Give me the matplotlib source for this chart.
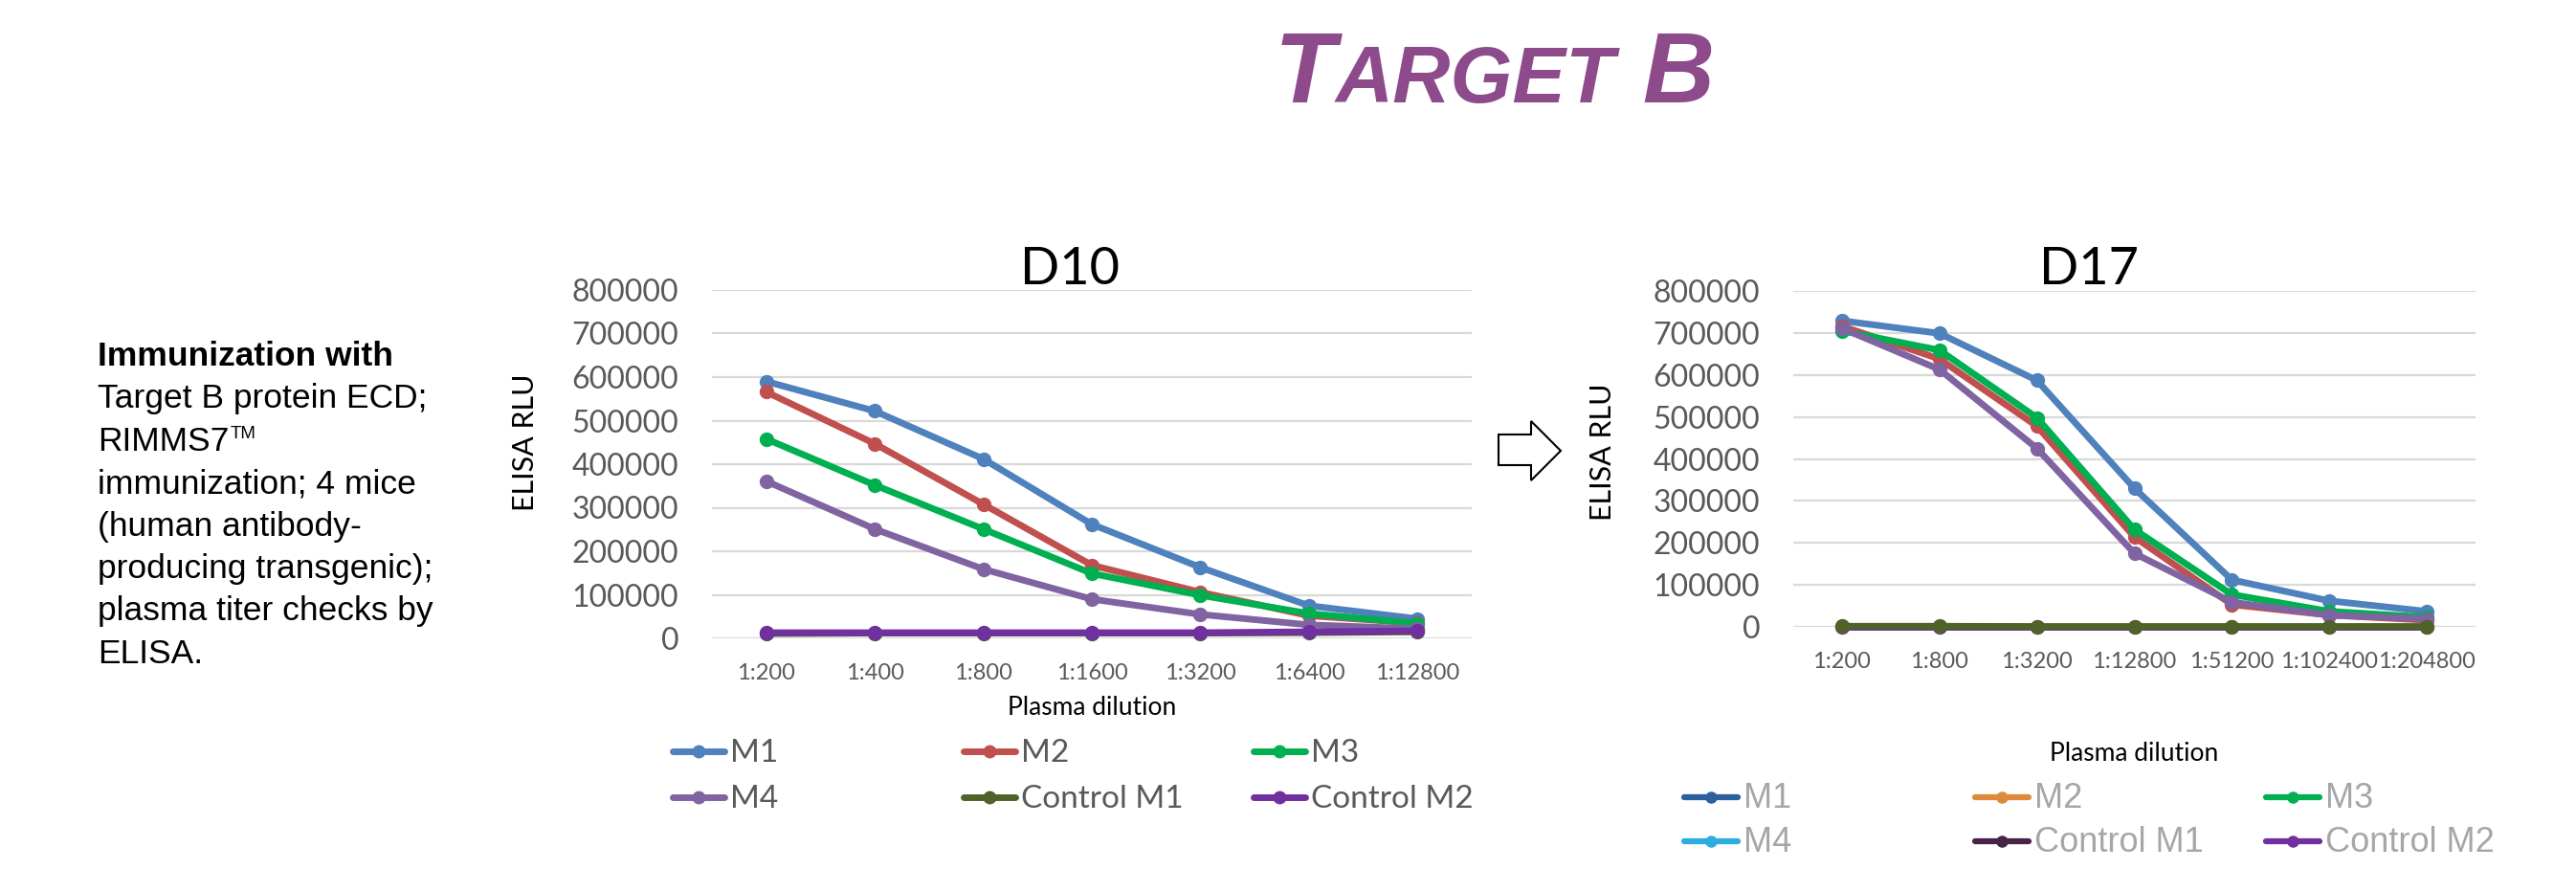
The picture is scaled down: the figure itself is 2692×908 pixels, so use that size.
import matplotlib
matplotlib.use('Agg')
import matplotlib.pyplot as plt
from matplotlib.lines import Line2D
from matplotlib.patches import Polygon
from matplotlib.ticker import FuncFormatter

W, H = 2692, 908

# ---- data ----
d10_labels = ['1:200', '1:400', '1:800', '1:1600', '1:3200', '1:6400', '1:12800']
d17_labels = ['1:200', '1:800', '1:3200', '1:12800', '1:51200', '1:102400', '1:204800']

series_names = ['M1', 'M2', 'M3', 'M4', 'Control M1', 'Control M2']

d10_m1 = [590000, 522000, 412000, 262000, 163000, 75000, 45000]
d10_m2 = [566000, 447000, 308000, 168000, 106000, 52000, 35000]
d10_m3 = [458000, 352000, 251000, 149000, 99000, 57000, 34000]
d10_m4 = [361000, 251000, 159000, 90000, 55000, 31000, 22000]
d10_ctrl1 = [11000, 12000, 12000, 12000, 12000, 13000, 15000]
d10_ctrl2 = [13000, 13000, 13000, 13000, 13000, 15000, 17000]

d17_m1 = [729000, 699000, 587000, 330000, 112000, 62000, 37000]
d17_m2 = [716000, 638000, 478000, 214000, 53000, 28000, 16000]
d17_m3 = [705000, 659000, 498000, 232000, 77000, 37000, 23000]
d17_m4 = [711000, 613000, 425000, 175000, 59000, 28000, 19000]
d17_ctrl1 = [1500, 1500, 1000, 1000, 1000, 1000, 1000]
d17_ctrl2 = [1000, 1000, 1000, 1000, 1000, 1000, 1000]

line_colors = ['#4F81BD', '#C0504D', '#00B050', '#8064A2', '#4F6228', '#7030A0']
d17_legend_colors = ['#2C5F9E', '#DD8A3A', '#00B050', '#2EAEE0', '#4A2448', '#7030A0']

calibri = ['Lato', 'DejaVu Sans']
arial = ['Liberation Sans', 'DejaVu Sans']
gray = '#595959'


def fx(x):
    return x / W


def fy(y):
    return 1 - y / H


fig = plt.figure(figsize=(W / 100, H / 100), dpi=100)
fig.patch.set_facecolor('white')
renderer = fig.canvas.get_renderer()

# ---- title with small caps ----
purple = '#8E4B8C'
x = fx(1332)
for s, size in [('T', 75), ('ARGET', 60), (' B', 75)]:
    t = fig.text(x, fy(107), s, fontsize=size, family=arial, weight='bold',
                 style='italic', color=purple, va='baseline', ha='left')
    x = t.get_window_extent(renderer).x1 / W

# ---- left description ----
desc = ['Immunization with', 'Target B protein ECD;', 'RIMMS7',
        'immunization; 4 mice', '(human antibody-', 'producing transgenic);',
        'plasma titer checks by', 'ELISA.']
for i, line in enumerate(desc):
    t = fig.text(fx(102), fy(382 + i * 44.4), line, fontsize=25.5, family=arial,
                 weight='bold' if i == 0 else 'normal', color='black', va='baseline')
    if line == 'RIMMS7':
        xe = t.get_window_extent(renderer).x1
        fig.text(xe / W + 0.0005, fy(382 + i * 44.4 - 13), 'TM', fontsize=13.5,
                 family=arial, color='black', va='baseline')


def make_axes(left, right, top, bottom):
    ax = fig.add_axes([fx(left), fy(bottom), (right - left) / W, (bottom - top) / H])
    for sp in ax.spines.values():
        sp.set_visible(False)
    ax.set_xlim(-0.5, 6.5)
    ax.set_ylim(0, 800000)
    ax.set_yticks(range(0, 800001, 100000))
    ax.yaxis.set_major_formatter(FuncFormatter(lambda v, p: '%d' % v))
    ax.grid(axis='y', color='#D9D9D9', lw=1.6)
    ax.set_axisbelow(True)
    ax.tick_params(axis='y', length=0, labelsize=23, labelcolor=gray, pad=25)
    ax.tick_params(axis='x', length=0, labelsize=17, labelcolor=gray, pad=19)
    return ax


# ---- D10 ----
ax1 = make_axes(744, 1538, 303, 667)
d10_series = [d10_m1, d10_m2, d10_m3, d10_m4, d10_ctrl1, d10_ctrl2]
xs = range(len(d10_labels))
for i, (vals, c) in enumerate(zip(d10_series, line_colors)):
    ax1.plot(xs, vals, color=c, lw=5, marker='o', ms=10, zorder=3 + i,
             solid_capstyle='round', clip_on=False)
ax1.set_xticks(list(xs))
ax1.set_xticklabels(d10_labels, family=calibri)
ax1.set_yticklabels(ax1.get_yticklabels(), family=calibri)
ax1.set_xlabel('Plasma dilution', fontsize=19, family=calibri, color='black', labelpad=9)
fig.text(fx(1118), fy(297), 'D10', fontsize=39, family=calibri, color='black',
         ha='center', va='baseline')
fig.text(fx(549), fy(462), 'ELISA RLU', fontsize=22, family=calibri, color='black',
         rotation=90, ha='center', va='center')

# ---- D17 ----
ax2 = make_axes(1874, 2587, 304, 655)
d17_series = [d17_m1, d17_m2, d17_m3, d17_m4, d17_ctrl1, d17_ctrl2]
zorders = [3, 4, 5, 6, 9, 8]
for vals, c, z in zip(d17_series, line_colors, zorders):
    ax2.plot(xs, vals, color=c, lw=5, marker='o', ms=10, zorder=z,
             solid_capstyle='round', clip_on=False)
ax2.set_xticks(list(xs))
ax2.set_xticklabels(d17_labels, family=calibri)
ax2.set_yticklabels(ax2.get_yticklabels(), family=calibri)
ax2.set_xlabel('Plasma dilution', fontsize=19, family=calibri, color='black', labelpad=52)
fig.text(fx(2183), fy(297), 'D17', fontsize=39, family=calibri, color='black',
         ha='center', va='baseline')
fig.text(fx(1675), fy(472), 'ELISA RLU', fontsize=22, family=calibri, color='black',
         rotation=90, ha='center', va='center')

# ---- arrow between charts ----
arrow_px = [(1566, 454), (1600, 454), (1600, 440), (1631, 471),
            (1600, 502), (1600, 486), (1566, 486)]
fig.add_artist(Polygon([(fx(a), fy(b)) for a, b in arrow_px], closed=True,
                       facecolor='white', edgecolor='black', lw=1.5,
                       transform=fig.transFigure))


# ---- legends ----
def legend(handle_x, hlen, rows_y, colors, font, tcolor, size, lw, ms, cap):
    for k, (name, c) in enumerate(zip(series_names, colors)):
        col, row = k % 3, k // 3
        x0 = handle_x[col]
        x1 = x0 + hlen
        y = rows_y[row]
        fig.add_artist(Line2D([fx(x0), fx((x0 + x1) / 2), fx(x1)], [fy(y)] * 3,
                              color=c, lw=lw, marker='o', ms=ms, markevery=[1],
                              solid_capstyle='round', transform=fig.transFigure))
        fig.text(fx(x1 + 6), fy(y + cap / 2), name, fontsize=size, family=font,
                 color=tcolor, va='baseline', ha='left')


legend([703, 1007, 1310], 54, [785, 833], line_colors, calibri, gray, 24, 5, 9, 23)
legend([1760, 2064, 2368], 56, [833, 879], d17_legend_colors, arial, '#A6A6A6',
       26, 4.5, 8, 23)

fig.savefig('out.png', dpi=100)
